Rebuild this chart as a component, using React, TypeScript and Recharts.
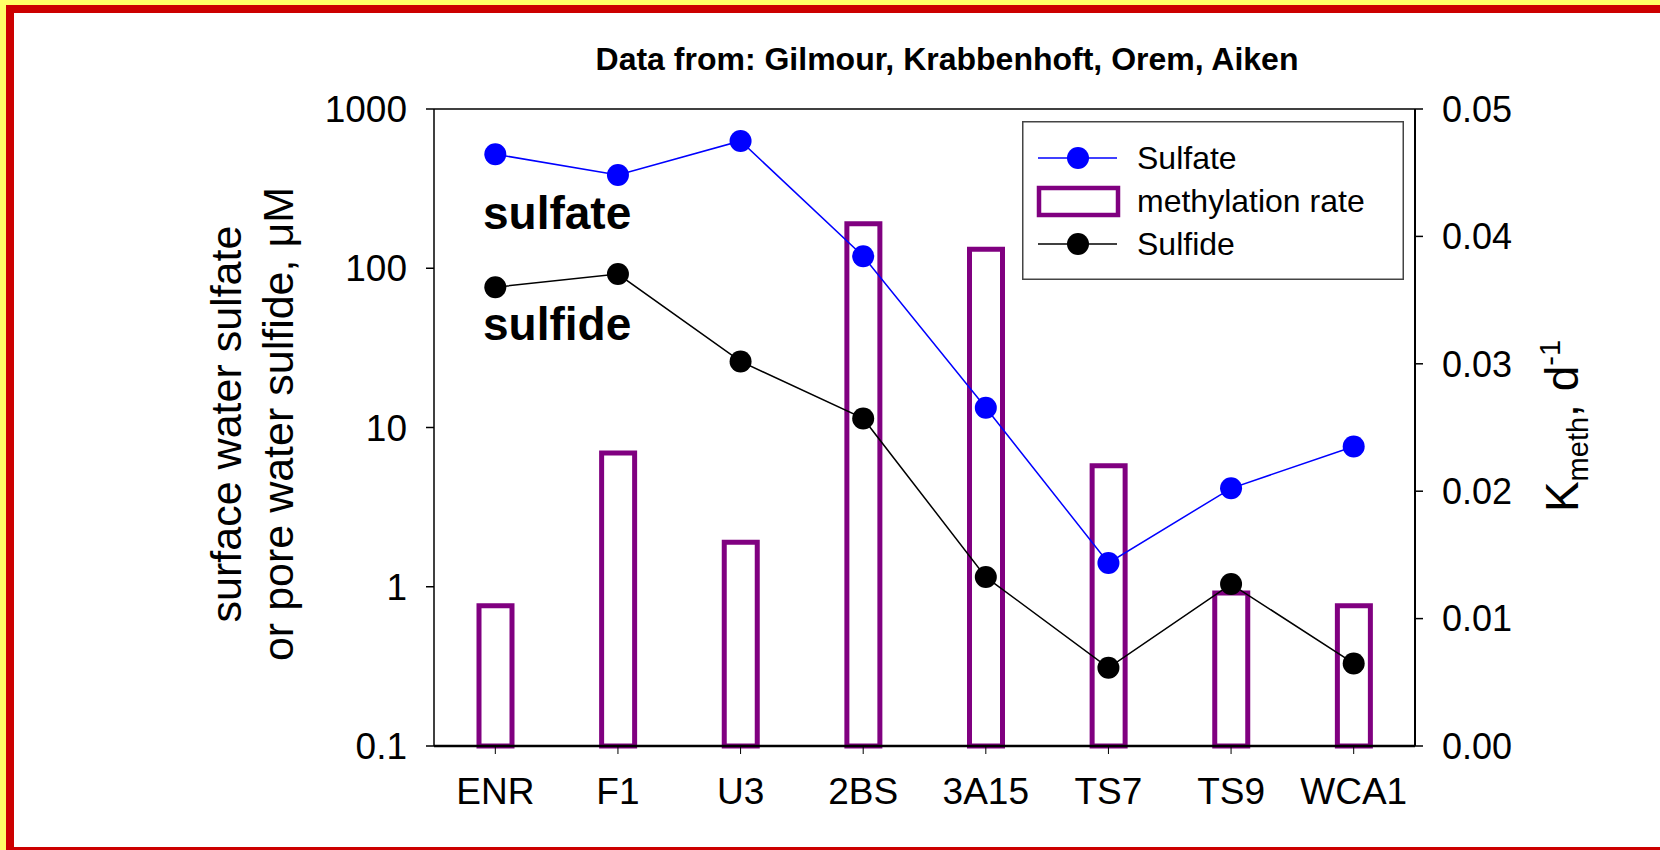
import React from 'react'
import { ComposedChart, Bar, Line, XAxis, YAxis, Legend, ReferenceLine, Label } from 'recharts'

const sites = ['ENR', 'F1', 'U3', '2BS', '3A15', 'TS7', 'TS9', 'WCA1']
const sulfate = [520, 385, 630, 119, 13.3, 1.41, 4.15, 7.6]
const sulfide = [76, 92, 26, 11.4, 1.15, 0.31, 1.04, 0.33]
const methylationRate = [0.011, 0.023, 0.016, 0.041, 0.039, 0.022, 0.012, 0.011]
const leftTicks = [0.1, 1, 10, 100, 1000]
const rightTicks = [0, 0.01, 0.02, 0.03, 0.04, 0.05]

const data = sites.map((site, i) => ({
  site,
  sulfate: sulfate[i],
  sulfide: sulfide[i],
  rate: methylationRate[i],
}))

const FONT = '"Liberation Sans", Arial, Helvetica, sans-serif'
const PURPLE = '#800080'
const BLUE = '#0000FF'
const legendOrder = ['sulfate', 'rate', 'sulfide']

function LegendBox(props: any) {
  const items = [...(props.payload || [])].sort(
    (a: any, b: any) => legendOrder.indexOf(a.dataKey) - legendOrder.indexOf(b.dataKey)
  )
  return (
    <svg width={382} height={159} style={{ display: 'block', fontFamily: FONT }}>
      <rect x={0.75} y={0.75} width={380.5} height={157.5} fill="#fff" stroke="#444" strokeWidth={1.5} />
      {items.map((item: any, i: number) => {
        const cy = 37 + i * 43
        return (
          <g key={item.dataKey}>
            {item.dataKey === 'rate' ? (
              <rect x={17} y={cy - 13} width={79} height={27} fill="#fff" stroke={PURPLE} strokeWidth={4.5} />
            ) : (
              <g>
                <line x1={16} x2={95} y1={cy} y2={cy} stroke={item.color} strokeWidth={1.5} />
                <circle cx={56} cy={cy} r={11} fill={item.color} />
              </g>
            )}
            <text x={115} y={cy + 11} fontSize={32} fill="#000">
              {item.value}
            </text>
          </g>
        )
      })}
    </svg>
  )
}

function LeftAxisLabel() {
  return (
    <g fontFamily={FONT} fontSize={43} fill="#000">
      <text transform="translate(241,424) rotate(-90)" textAnchor="middle">surface water sulfate</text>
      <text transform="translate(293,424) rotate(-90)" textAnchor="middle">or pore water sulfide, {'\u03bc'}M</text>
    </g>
  )
}

function RightAxisLabel() {
  return (
    <text transform="translate(1578,426) rotate(-90)" textAnchor="middle" fontFamily={FONT} fontSize={46} fill="#000">
      K
      <tspan fontSize={29} dy={10}>meth</tspan>
      <tspan dy={-10}>, d</tspan>
      <tspan fontSize={29} dy={-18}>-1</tspan>
    </text>
  )
}

export default function App() {
  return (
    <div style={{ position: 'absolute', left: 0, top: 0, width: 1660, height: 850, overflow: 'hidden', background: '#FFFF66' }}>
      <div
        style={{
          position: 'absolute',
          left: 6,
          top: 5,
          width: 1700,
          height: 850,
          boxSizing: 'border-box',
          border: '8px solid #CC0000',
          background: '#fff',
        }}
      />
      <div style={{ position: 'absolute', left: 0, top: 0 }}>
        <ComposedChart width={1660} height={850} data={data} margin={{ top: 109, right: 0, bottom: 0, left: 0 }}>
          <XAxis
            dataKey="site"
            height={104}
            tickSize={8}
            tickMargin={24}
            tick={{ fill: '#000', fontSize: 37, fontFamily: FONT }}
            tickLine={{ stroke: '#000', strokeWidth: 1 }}
            axisLine={{ stroke: '#000', strokeWidth: 2.5 }}
          />
          <YAxis
            yAxisId="left"
            width={434}
            scale="log"
            type="number"
            domain={[0.1, 1000]}
            ticks={leftTicks}
            allowDataOverflow
            tickSize={8}
            tickMargin={19}
            tick={{ fill: '#000', fontSize: 37, fontFamily: FONT }}
            tickLine={{ stroke: '#000', strokeWidth: 1.5 }}
            axisLine={{ stroke: '#000', strokeWidth: 1.5 }}
          >
            <Label content={LeftAxisLabel} />
          </YAxis>
          <YAxis
            yAxisId="right"
            orientation="right"
            width={245}
            type="number"
            domain={[0, 0.05]}
            ticks={rightTicks}
            tickFormatter={(v: number) => v.toFixed(2)}
            tickSize={8}
            tickMargin={19}
            tick={{ fill: '#000', fontSize: 36, fontFamily: FONT }}
            tickLine={{ stroke: '#000', strokeWidth: 1.5 }}
            axisLine={{ stroke: '#000', strokeWidth: 2 }}
          >
            <Label content={RightAxisLabel} />
          </YAxis>
          <ReferenceLine yAxisId="left" y={1000} stroke="#000" strokeWidth={1.5} />
          <Bar
            yAxisId="right"
            dataKey="rate"
            name="methylation rate"
            fill="#fff"
            stroke={PURPLE}
            strokeWidth={5}
            barSize={33}
            isAnimationActive={false}
          />
          <Line
            yAxisId="left"
            dataKey="sulfate"
            name="Sulfate"
            stroke={BLUE}
            strokeWidth={1.5}
            dot={{ r: 11, fill: BLUE, stroke: BLUE, strokeWidth: 0 }}
            activeDot={false}
            isAnimationActive={false}
          />
          <Line
            yAxisId="left"
            dataKey="sulfide"
            name="Sulfide"
            stroke="#000"
            strokeWidth={1.5}
            dot={{ r: 11, fill: '#000', stroke: '#000', strokeWidth: 0 }}
            activeDot={false}
            isAnimationActive={false}
          />
          <Legend
            layout="horizontal"
            verticalAlign="middle"
            align="center"
            content={LegendBox}
            wrapperStyle={{ left: 1022, top: 121, width: 382, height: 159 }}
          />
        </ComposedChart>
      </div>
      <svg
        width={1660}
        height={850}
        style={{ position: 'absolute', left: 0, top: 0, pointerEvents: 'none', fontFamily: FONT }}
      >
        <text x={947} y={70} textAnchor="middle" fontSize={32} fontWeight="bold" fill="#000">
          Data from: Gilmour, Krabbenhoft, Orem, Aiken
        </text>
        <text x={483} y={229} fontSize={46} fontWeight="bold" fill="#000">sulfate</text>
        <text x={483} y={340} fontSize={46} fontWeight="bold" fill="#000">sulfide</text>
      </svg>
    </div>
  )
}
